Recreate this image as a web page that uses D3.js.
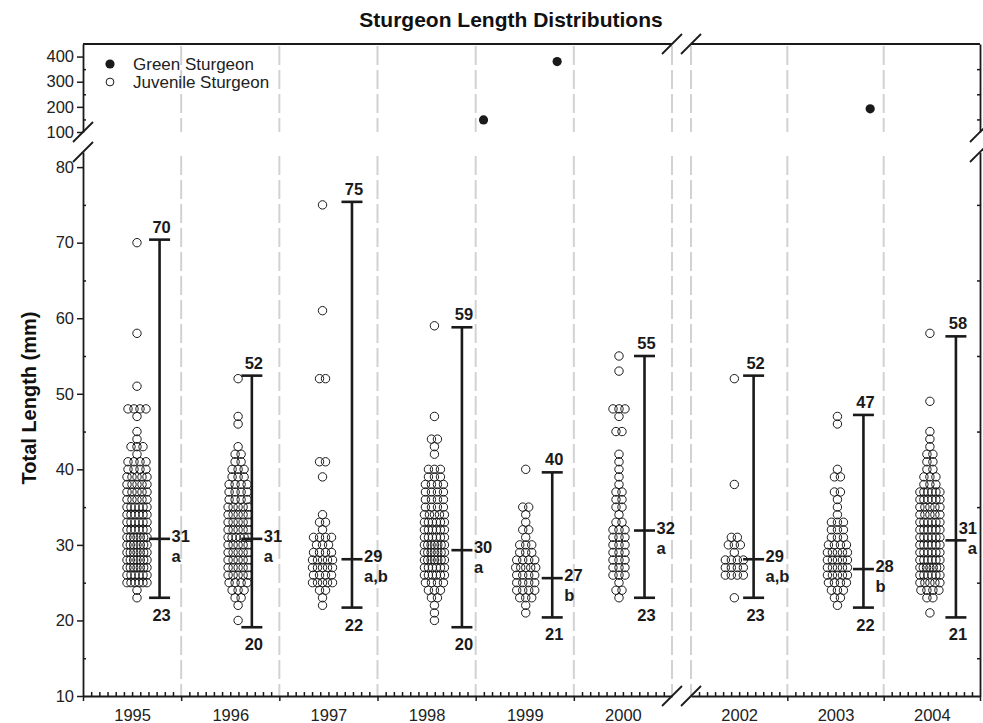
<!DOCTYPE html>
<html>
<head>
<meta charset="utf-8">
<script src="https://cdn.jsdelivr.net/npm/d3@7"></script>
<style>
  body { margin: 0; background: #fff; }
  svg { display: block; font-family: "Liberation Sans", Arial, Helvetica, sans-serif; }
</style>
</head>
<body>
<div id="chart"></div>
<script>
// ---- data ----
const years = ["1995", "1996", "1997", "1998", "1999", "2000", "2002", "2003", "2004"];

// where in the year (fraction) the samples and the range bar sit
const dotPos = [0.55, 0.58, 0.44, 0.58, 0.51, 0.46, 0.45, 0.52, 0.48];
const barPos = [0.78, 0.72, 0.74, 0.86, 0.78, 0.72, 0.65, 0.79, 0.75];

// juvenile sturgeon: [total length (mm), number of fish]
const juv1995 = [[70,1],[58,1],[51,1],[48,4],[47,1],[45,1],[44,1],[43,3],[42,1],[41,4],[40,4],[39,5],[38,5],[37,5],[36,5],[35,6],[34,6],[33,6],[32,6],[31,7],[30,7],[29,7],[28,7],[27,7],[26,6],[25,6],[24,1],[23,1]];
const juv1996 = [[52,1],[47,1],[46,1],[43,1],[42,2],[41,2],[40,3],[39,3],[38,4],[37,4],[36,4],[35,5],[34,5],[33,5],[32,5],[31,6],[30,5],[29,5],[28,5],[27,5],[26,5],[25,4],[24,3],[23,2],[22,1],[20,1]];
const juv1997 = [[75,1],[61,1],[52,2],[41,2],[39,1],[34,1],[33,2],[32,1],[31,4],[30,3],[29,4],[28,5],[27,5],[26,4],[25,5],[24,2],[23,1],[22,1]];
const juv1998 = [[59,1],[47,1],[44,2],[43,1],[42,1],[40,3],[39,3],[38,4],[37,4],[36,4],[35,4],[34,5],[33,6],[32,6],[31,6],[30,7],[29,7],[28,7],[27,6],[26,6],[25,4],[24,3],[23,2],[22,1],[21,1],[20,1]];
const juv1999 = [[40,1],[35,2],[34,1],[33,1],[32,2],[31,1],[30,3],[29,3],[28,4],[27,5],[26,4],[25,4],[24,4],[23,3],[22,1],[21,1]];
const juv2000 = [[55,1],[53,1],[48,3],[47,1],[45,2],[42,1],[41,1],[40,1],[39,1],[38,1],[37,2],[36,2],[35,2],[34,1],[33,2],[32,3],[31,3],[30,3],[29,3],[28,3],[27,3],[26,3],[25,1],[24,2],[23,1]];
const juv2002 = [[52,1],[38,1],[31,2],[30,3],[29,1],[28,4],[27,4],[26,4],[23,1]];
const juv2003 = [[47,1],[46,1],[40,1],[39,2],[37,2],[36,1],[35,1],[34,1],[33,3],[32,3],[31,3],[30,4],[29,5],[28,5],[27,5],[26,5],[25,4],[24,3],[23,2],[22,1]];
const juv2004 = [[58,1],[49,1],[45,1],[44,1],[43,1],[42,2],[41,2],[40,2],[39,3],[38,3],[37,6],[36,6],[35,5],[34,5],[33,6],[32,6],[31,6],[30,6],[29,6],[28,6],[27,7],[26,6],[25,5],[24,4],[23,2],[21,1]];
const juvenile = [juv1995, juv1996, juv1997, juv1998, juv1999, juv2000, juv2002, juv2003, juv2004];

// range bars (as drawn) and their labels
const barMax  = [70.4, 52.4, 75.4, 58.8, 39.6, 55.0, 52.4, 47.2, 57.6];
const barMean = [30.8, 30.8, 28.1, 29.3, 25.6, 31.9, 28.1, 26.8, 30.6];
const barMin  = [23.0, 19.1, 21.7, 19.1, 20.4, 23.0, 23.0, 21.7, 20.4];
const maxText  = ["70", "52", "75", "59", "40", "55", "52", "47", "58"];
const meanText = ["31", "31", "29", "30", "27", "32", "29", "28", "31"];
const minText  = ["23", "20", "22", "20", "21", "23", "23", "22", "21"];
const groupText = ["a", "a", "a,b", "a", "b", "a", "a,b", "b", "a"];

// green sturgeon: date (year fraction) and length
const greenDate = [1999.08, 1999.83, 2003.86];
const greenLen = [148, 380, 192];

const lowTicks = [10, 20, 30, 40, 50, 60, 70, 80];
const lowMinor = [15, 25, 35, 45, 55, 65, 75];
const highTicks = [100, 200, 300, 400];
const highMinor = [150, 250, 350];

// ---- layout ----
const width = 983, height = 723;
const marginLeft = 83, marginRight = 3;
const plotTop = 44, plotBottom = 696;
const breakTop = 132, breakBottom = 152;   // y-axis break
const xBreakL = 672, xBreakR = 691;        // x-axis break (2001 skipped)
const ink = "#1a1a1a";

const x1 = d3.scaleLinear([1995, 2001], [marginLeft, xBreakL]);
const x2 = d3.scaleLinear([2002, 2005], [xBreakR, width - marginRight]);
const x = t => t < 2001.5 ? x1(t) : x2(t);
const yLow = d3.scaleLinear([10, 82], [plotBottom, breakBottom]);
const yHigh = d3.scaleLinear([100, 450], [breakTop, plotTop]);
const xRight = width - marginRight;

const svg = d3.select("#chart").append("svg")
    .attr("width", width)
    .attr("height", height)
    .attr("viewBox", [0, 0, width, height]);

svg.append("rect").attr("width", width).attr("height", height).attr("fill", "#fff");

// dashed year separators, drawn per panel
const gridYears = [1996, 1997, 1998, 1999, 2000, 2001, 2002, 2003, 2004];
const grid = svg.append("g")
    .attr("stroke", "#d2d2d2")
    .attr("stroke-width", 2)
    .attr("stroke-dasharray", "19,5");
for (const [ya, yb] of [[plotTop + 2, breakTop], [breakBottom + 4, plotBottom]]) {
  grid.selectAll(null)
    .data(gridYears)
    .join("line")
      .attr("x1", d => x(d)).attr("x2", d => x(d))
      .attr("y1", ya).attr("y2", yb);
}

function styleAxis(g) {
  g.selectAll(".domain").attr("stroke", ink).attr("stroke-width", 1.8);
  g.selectAll(".tick line").attr("stroke", ink).attr("stroke-width", 1.5);
  g.selectAll(".tick text").attr("fill", "#222").attr("font-size", 16.5);
}

// left axes
svg.append("g")
    .attr("transform", `translate(${marginLeft},0)`)
    .call(d3.axisLeft(yLow).tickValues(lowTicks).tickSize(6).tickSizeOuter(0).tickPadding(3))
    .call(styleAxis);
svg.append("g")
    .attr("transform", `translate(${marginLeft},0)`)
    .call(d3.axisLeft(yLow).tickValues(lowMinor).tickSize(-3).tickFormat(""))
    .call(g => g.select(".domain").remove())
    .call(styleAxis);
svg.append("g")
    .attr("transform", `translate(${marginLeft},0)`)
    .call(d3.axisLeft(yHigh).tickValues(highTicks).tickSize(6).tickSizeOuter(0).tickPadding(3))
    .call(styleAxis);
svg.append("g")
    .attr("transform", `translate(${marginLeft},0)`)
    .call(d3.axisLeft(yHigh).tickValues(highMinor).tickSize(-3).tickFormat(""))
    .call(g => g.select(".domain").remove())
    .call(styleAxis);

// right axes (mirror, inward minor ticks only)
svg.append("g")
    .attr("transform", `translate(${xRight},0)`)
    .call(d3.axisRight(yLow).tickValues(lowMinor).tickSize(-3).tickSizeOuter(0).tickFormat(""))
    .call(styleAxis);
svg.append("g")
    .attr("transform", `translate(${xRight},0)`)
    .call(d3.axisRight(yHigh).tickValues(highMinor).tickSize(-3).tickSizeOuter(0).tickFormat(""))
    .call(styleAxis);

// bottom axes, one per panel
const panels = [
  {scale: x1, major: [1995, 1996, 1997, 1998, 1999, 2000], yrs: [1995, 1996, 1997, 1998, 1999, 2000]},
  {scale: x2, major: [2003, 2004, 2005], yrs: [2002, 2003, 2004]}
];
for (const p of panels) {
  const months = p.yrs.flatMap(yr => d3.range(1, 12).map(m => yr + m / 12));
  svg.append("g")
      .attr("transform", `translate(0,${plotBottom})`)
      .call(d3.axisBottom(p.scale).tickValues(p.major).tickSize(5).tickSizeOuter(0).tickFormat(""))
      .call(styleAxis);
  svg.append("g")
      .attr("transform", `translate(0,${plotBottom})`)
      .call(d3.axisBottom(p.scale).tickValues(months).tickSize(-4).tickFormat(""))
      .call(g => g.select(".domain").remove())
      .call(styleAxis);
  svg.append("g")
      .attr("transform", `translate(0,${plotBottom})`)
      .call(d3.axisBottom(p.scale).tickValues(p.yrs.map(yr => yr + 0.5)).tickSize(0).tickPadding(13)
          .tickFormat(d => String(Math.floor(d))))
      .call(g => g.select(".domain").remove())
      .call(styleAxis);
  // top frame
  svg.append("line")
      .attr("x1", p.scale.range()[0]).attr("x2", p.scale.range()[1])
      .attr("y1", plotTop).attr("y2", plotTop)
      .attr("stroke", ink).attr("stroke-width", 1.8);
}

// break marks
const breaks = [
  [xBreakL, plotTop], [xBreakR, plotTop], [xBreakL, plotBottom], [xBreakR, plotBottom],
  [marginLeft, breakTop], [marginLeft, breakBottom], [xRight, breakTop], [xRight, breakBottom]
];
svg.append("g")
    .attr("stroke", ink)
    .attr("stroke-width", 1.8)
  .selectAll("line")
  .data(breaks)
  .join("line")
    .attr("x1", d => d[0] - 10).attr("y1", d => d[1] + 10)
    .attr("x2", d => d[0] + 10).attr("y2", d => d[1] - 10);

// juvenile sturgeon dots, stacked sideways where lengths repeat
const step = n => n > 1 ? Math.min(6, 20 / (n - 1)) : 0;
const dots = years.flatMap((yr, i) => juvenile[i].flatMap(([len, n]) =>
  d3.range(n).map(k => ({t: +yr + dotPos[i], len, k, n}))));

svg.append("g")
    .attr("fill", "none")
    .attr("stroke", ink)
    .attr("stroke-width", 1)
  .selectAll("circle")
  .data(dots)
  .join("circle")
    .attr("cx", d => x(d.t) + (d.k - (d.n - 1) / 2) * step(d.n))
    .attr("cy", d => yLow(d.len))
    .attr("r", 4.2);

// green sturgeon
svg.append("g")
    .attr("fill", ink)
  .selectAll("circle")
  .data(greenDate)
  .join("circle")
    .attr("cx", d => x(d))
    .attr("cy", (d, i) => yHigh(greenLen[i]))
    .attr("r", 4.6);

// range bars
const capW = 10.5;
const bars = svg.append("g")
    .attr("stroke", ink)
    .attr("stroke-width", 2.6);
years.forEach((yr, i) => {
  const bx = x(+yr + barPos[i]);
  bars.append("line").attr("x1", bx).attr("x2", bx)
      .attr("y1", yLow(barMin[i])).attr("y2", yLow(barMax[i]));
  for (const v of [barMin[i], barMean[i], barMax[i]]) {
    bars.append("line").attr("x1", bx - capW).attr("x2", bx + capW)
        .attr("y1", yLow(v)).attr("y2", yLow(v));
  }
});

const labels = svg.append("g")
    .attr("font-weight", "bold")
    .attr("font-size", 16.5)
    .attr("fill", ink);
years.forEach((yr, i) => {
  const bx = x(+yr + barPos[i]);
  const ym = yLow(barMean[i]);
  labels.append("text").attr("x", bx + 2).attr("y", yLow(barMax[i]) - 7)
      .attr("text-anchor", "middle").text(maxText[i]);
  labels.append("text").attr("x", bx + 2).attr("y", yLow(barMin[i]) + 23)
      .attr("text-anchor", "middle").text(minText[i]);
  const mean = labels.append("text").attr("x", bx + 12).attr("y", ym + 3).text(meanText[i]);
  const grp = labels.append("text").attr("x", bx + 12).attr("y", ym + 23).text(groupText[i]);
  // squeeze against the right frame when there is no room beside the tick
  const mw = mean.node().getComputedTextLength();
  if (bx + 12 + mw > xRight - 2) {
    mean.attr("x", xRight - mw - 3).attr("y", ym - 6);
    grp.attr("x", xRight - grp.node().getComputedTextLength() - 3).attr("y", ym + 14);
  }
});

// legend
const legend = svg.append("g").attr("font-size", 17).attr("fill", "#222");
legend.append("circle").attr("cx", 110).attr("cy", 64).attr("r", 4.6).attr("fill", ink);
legend.append("circle").attr("cx", 110).attr("cy", 82).attr("r", 3.9)
    .attr("fill", "none").attr("stroke", ink).attr("stroke-width", 1);
legend.append("text").attr("x", 133).attr("y", 69.5).text("Green Sturgeon");
legend.append("text").attr("x", 133).attr("y", 87.5).text("Juvenile Sturgeon");

// titles
svg.append("text")
    .attr("x", 511).attr("y", 27)
    .attr("text-anchor", "middle")
    .attr("font-weight", "bold")
    .attr("font-size", 21)
    .attr("fill", "#111")
    .text("Sturgeon Length Distributions");

svg.append("text")
    .attr("transform", "translate(36,398) rotate(-90)")
    .attr("text-anchor", "middle")
    .attr("font-weight", "bold")
    .attr("font-size", 20)
    .attr("fill", "#111")
    .text("Total Length (mm)");
</script>
</body>
</html>
